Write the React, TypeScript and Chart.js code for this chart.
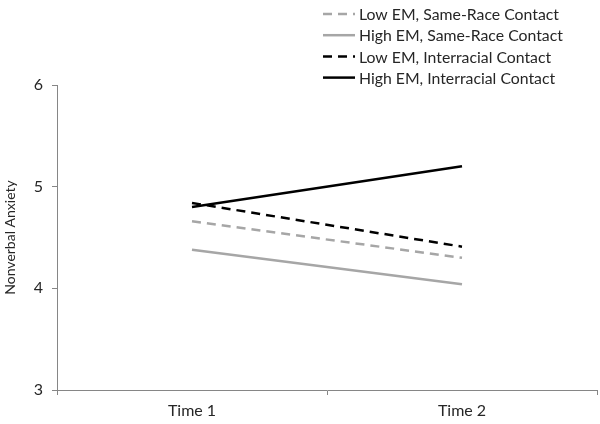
import React, { useEffect, useRef } from "react";
import { Chart, registerables } from "chart.js";

Chart.register(...registerables);

const categories = ["Time 1", "Time 2"];
const seriesLabels = [
  "Low EM, Same-Race Contact",
  "High EM, Same-Race Contact",
  "Low EM, Interracial Contact",
  "High EM, Interracial Contact",
];
const lowEmSameRace = [4.66, 4.3];
const highEmSameRace = [4.38, 4.04];
const lowEmInterracial = [4.84, 4.41];
const highEmInterracial = [4.8, 5.2];
const yTicks = [3, 4, 5, 6];

const FONT = "Lato, 'Open Sans', sans-serif";
const GRAY = "#a6a6a6";
const BLACK = "#000000";
const DASH = [9, 6];

const legendPlugin = {
  id: "customLegend",
  afterDraw(chart: any) {
    const ctx = chart.ctx;
    ctx.save();
    const x0 = 323;
    const x1 = 355;
    const tx = 359;
    const y0 = 14;
    const dy = 21.2;
    chart.data.datasets.forEach((ds: any, i: number) => {
      const y = y0 + i * dy;
      ctx.beginPath();
      ctx.strokeStyle = ds.borderColor;
      ctx.lineWidth = ds.borderWidth;
      ctx.setLineDash(ds.borderDash || []);
      ctx.moveTo(x0, y);
      ctx.lineTo(x1, y);
      ctx.stroke();
      ctx.setLineDash([]);
      ctx.fillStyle = "#262626";
      ctx.font = `15.8px ${FONT}`;
      ctx.textBaseline = "middle";
      ctx.textAlign = "left";
      ctx.fillText(ds.label, tx, y + 1);
    });
    ctx.restore();
  },
};

export default function App() {
  const ref = useRef<HTMLCanvasElement | null>(null);
  useEffect(() => {
    if (!ref.current) return;
    const chart = new Chart(ref.current, {
      type: "line",
      data: {
        labels: categories,
        datasets: [
          { label: seriesLabels[0], data: lowEmSameRace, borderColor: GRAY, borderWidth: 2.5, borderDash: DASH },
          { label: seriesLabels[1], data: highEmSameRace, borderColor: GRAY, borderWidth: 2.5 },
          { label: seriesLabels[2], data: lowEmInterracial, borderColor: BLACK, borderWidth: 2.5, borderDash: DASH },
          { label: seriesLabels[3], data: highEmInterracial, borderColor: BLACK, borderWidth: 2.5 },
        ].map((d) => ({ ...d, pointRadius: 0, fill: false, tension: 0, backgroundColor: d.borderColor })),
      },
      options: {
        animation: false,
        responsive: true,
        maintainAspectRatio: false,
        layout: { padding: { top: 85, right: 3, left: 2, bottom: 0 } },
        plugins: { legend: { display: false }, tooltip: { enabled: false } },
        scales: {
          x: {
            type: "category",
            offset: true,
            grid: { offset: true, drawOnChartArea: false, drawTicks: true, tickLength: 5, color: "#868686" },
            border: { color: "#868686", width: 1 },
            ticks: { color: "#262626", font: { family: FONT, size: 16 }, padding: 6 },
            afterFit: (s: any) => { s.height = 34; },
          },
          y: {
            min: 3,
            max: 6,
            afterBuildTicks: (s: any) => { s.ticks = yTicks.map((v) => ({ value: v })); },
            grid: { drawOnChartArea: false, drawTicks: true, tickLength: 5, color: "#868686" },
            border: { color: "#868686", width: 1 },
            ticks: { color: "#262626", font: { family: FONT, size: 16 }, padding: 9 },
            title: { display: true, text: "Nonverbal Anxiety", color: "#262626", font: { family: FONT, size: 14 }, padding: 0 },
            afterFit: (s: any) => { s.width = 55; },
          },
        },
      },
      plugins: [legendPlugin],
    });
    return () => chart.destroy();
  }, []);
  return (
    <div style={{ position: "absolute", left: 0, top: 0, width: 600, height: 424, background: "#fff" }}>
      <canvas ref={ref} />
    </div>
  );
}
